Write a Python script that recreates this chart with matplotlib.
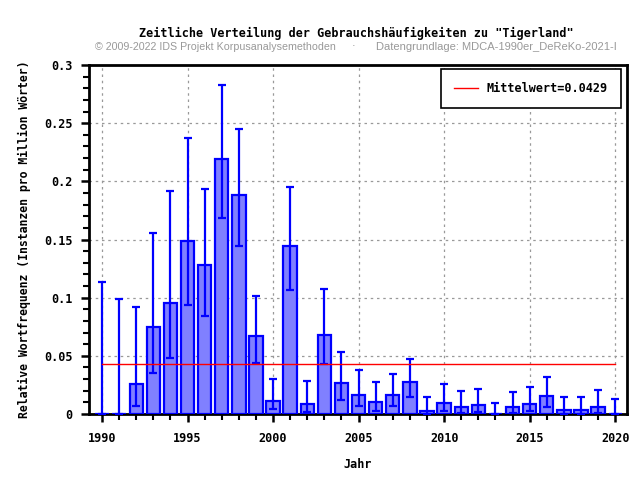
import numpy as np
import matplotlib
matplotlib.use('Agg')
import matplotlib.pyplot as plt
from matplotlib.ticker import MultipleLocator

# Data
years = list(range(1990, 2021))
freq = [0.0, 0.0, 0.0255, 0.0751, 0.0957, 0.149, 0.1284, 0.219, 0.1885, 0.0673,
        0.0115, 0.1447, 0.0083, 0.0682, 0.0264, 0.0161, 0.0100, 0.0161, 0.0272, 0.0029,
        0.0092, 0.0057, 0.0075, 0.0, 0.0057, 0.0083, 0.0152, 0.0032, 0.0032, 0.0057,
        0.0]
err_low = [0.0, 0.0, 0.0069, 0.0352, 0.0484, 0.0937, 0.0842, 0.1688, 0.1447, 0.0441,
           0.0046, 0.1069, 0.0020, 0.0432, 0.0123, 0.0072, 0.0029, 0.0072, 0.0146, 0.0003,
           0.0029, 0.0010, 0.0020, 0.0, 0.0010, 0.0026, 0.0063, 0.0004, 0.0004, 0.0010,
           0.0]
err_high = [0.1137, 0.0989, 0.0920, 0.1559, 0.1920, 0.2375, 0.1937, 0.2830, 0.2453, 0.1017,
            0.0304, 0.1954, 0.0286, 0.1075, 0.0536, 0.0376, 0.0278, 0.0341, 0.0475, 0.0149,
            0.0255, 0.0200, 0.0216, 0.0097, 0.0192, 0.0235, 0.0321, 0.0149, 0.0149, 0.0204,
            0.0126]
mean_value = 0.0429

title = 'Zeitliche Verteilung der Gebrauchshäufigkeiten zu "Tigerland"'
subtitle_left = '© 2009-2022 IDS Projekt Korpusanalysemethoden'
subtitle_right = 'Datengrundlage: MDCA-1990er_DeReKo-2021-I'

mono = 'DejaVu Sans Mono'
sub_font = ['Liberation Sans Narrow', 'Liberation Sans', 'DejaVu Sans']

fig = plt.figure(figsize=(6.4, 4.8), dpi=100)
ax = fig.add_axes([0.139, 0.1375, 0.841, 0.727])

freq_arr = np.array(freq)
yerr = np.array([freq_arr - np.array(err_low), np.array(err_high) - freq_arr])

ax.bar(years, freq, width=0.78, color='#8080ff', edgecolor='#0000ff',
       linewidth=1.6, zorder=3)
ax.errorbar(years, freq, yerr=yerr, fmt='none', ecolor='#0000ff',
            elinewidth=1.6, capsize=3, capthick=1.6, zorder=4)
ax.plot([years[0], years[-1]], [mean_value, mean_value], color='red',
        linewidth=1.0, zorder=5, label='Mittelwert=0.0429')

ax.set_xlim(1989.24, 2020.7)
ax.set_ylim(0, 0.3)
ax.xaxis.set_major_locator(MultipleLocator(5))
ax.xaxis.set_minor_locator(MultipleLocator(1))
ax.yaxis.set_minor_locator(MultipleLocator(0.01))
ax.set_yticks([0, 0.05, 0.1, 0.15, 0.2, 0.25, 0.3])
ax.set_yticklabels(['0', '0.05', '0.1', '0.15', '0.2', '0.25', '0.3'])

ax.grid(True, which='major', color='#999999', linestyle=(0, (2, 3)), linewidth=0.9, zorder=0)
ax.set_axisbelow(True)

for side in ax.spines.values():
    side.set_linewidth(2)
ax.tick_params(which='major', direction='out', length=6, width=1.8, labelsize=8.5)
ax.tick_params(which='minor', direction='out', length=4, width=1.5)
ax.tick_params(axis='x', which='major', pad=7)
ax.tick_params(axis='y', which='major', pad=6)
for lab in ax.get_xticklabels() + ax.get_yticklabels():
    lab.set_family(mono)
    lab.set_fontweight('bold')

ax.set_xlabel('Jahr', family=mono, fontweight='bold', fontsize=8.5, labelpad=9)
ax.set_ylabel('Relative Wortfrequenz (Instanzen pro Million Wörter)', family=mono,
              fontweight='bold', fontsize=8.3, labelpad=9)

leg = ax.legend(loc='upper right', prop={'family': mono, 'weight': 'bold', 'size': 8.5},
                fancybox=False, edgecolor='black', framealpha=1, borderpad=1.1,
                handlelength=2.1, handletextpad=0.7, borderaxespad=0,
                bbox_to_anchor=(0.988, 0.988))
leg.get_frame().set_linewidth(1.2)

fig.text(0.557, 0.93, title, ha='center', va='center', family=mono,
         fontweight='bold', fontsize=8.5)
fig.text(0.148, 0.903, subtitle_left, ha='left', va='center', color='#999999',
         fontsize=7.7, family=sub_font)
fig.text(0.552, 0.903, '·', ha='center', va='center', color='#999999', fontsize=8)
fig.text(0.587, 0.903, subtitle_right, ha='left', va='center', color='#999999',
         fontsize=8, family=sub_font)

fig.savefig('out.png', dpi=100)
